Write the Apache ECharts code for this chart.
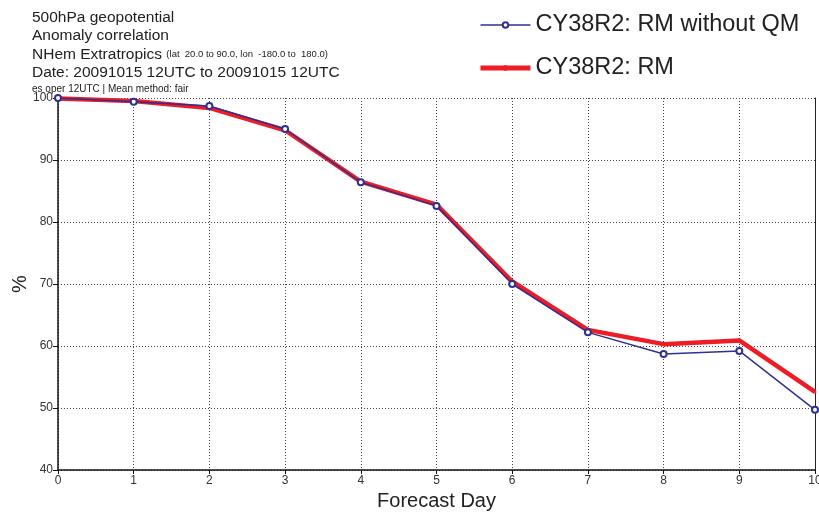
<!DOCTYPE html>
<html>
<head>
<meta charset="utf-8">
<script src="https://cdn.jsdelivr.net/npm/echarts@6/dist/echarts.min.js"></script>
<style>html,body{margin:0;padding:0;background:#fff}#c{width:819px;height:514px}</style>
</head>
<body>
<div id="c"></div>
<script>
var days = [0, 1, 2, 3, 4, 5, 6, 7, 8, 9, 10];
var rmWithoutQM = [100.0, 99.4, 98.7, 95.0, 86.4, 82.6, 70.0, 62.2, 58.7, 59.2, 49.7];
var rm = [99.9, 99.5, 98.4, 94.8, 86.5, 82.8, 70.4, 62.6, 60.3, 60.9, 52.6];
var seriesNames = ['CY38R2: RM without QM', 'CY38R2: RM'];

var chart = echarts.init(document.getElementById('c'));
var font = '"Liberation Sans", Arial, Helvetica, sans-serif';
chart.setOption({
  animation: false,
  textStyle: { fontFamily: font },
  title: {
    left: 27, top: 3,
    text: '{m|500hPa geopotential}\n{m|Anomaly correlation}\n{m|NHem Extratropics }{s|(lat  20.0 to 90.0, lon  -180.0 to  180.0)}\n{m|Date: 20091015 12UTC to 20091015 12UTC}\n{t|es oper 12UTC | Mean method: fair}',
    textStyle: {
      fontFamily: font,
      fontWeight: 'normal',
      rich: {
        m: { fontSize: 15.5, color: '#222', lineHeight: 18.5, fontFamily: font },
        s: { fontSize: 9.5, color: '#222', lineHeight: 18.5, fontFamily: font },
        t: { fontSize: 10, color: '#222', lineHeight: 15, fontFamily: font }
      }
    }
  },
  legend: {
    data: [
      { name: seriesNames[0], lineStyle: { width: 1.5 } },
      { name: seriesNames[1], lineStyle: { width: 5 } }
    ],
    orient: 'vertical',
    left: 473, top: 8,
    itemWidth: 50, itemHeight: 7,
    itemGap: 19,
    textStyle: { fontSize: 23.5, color: '#222', fontFamily: font, padding: [0, 0, 0, 0] }
  },
  grid: { left: 58, right: 4, top: 98, bottom: 44, outerBoundsMode: 'none' },
  xAxis: {
    type: 'value', min: 0, max: 10, interval: 1,
    name: 'Forecast Day', nameLocation: 'middle', nameGap: 20,
    nameTextStyle: { fontSize: 20, color: '#222', fontFamily: font },
    axisLine: { show: true, lineStyle: { color: '#111', width: 1.5 } },
    axisTick: { show: true, length: 4, lineStyle: { color: '#111' } },
    axisLabel: { fontSize: 12, color: '#333', margin: 5, fontFamily: font },
    splitLine: { show: true, lineStyle: { color: '#444', type: [1, 2], width: 1 } }
  },
  yAxis: [{
    type: 'value', min: 40, max: 100, interval: 10,
    name: '%', nameLocation: 'middle', nameGap: 28, nameRotate: 90, nameMoveOverlap: false,
    nameTextStyle: { fontSize: 20, color: '#222', fontFamily: font },
    axisLine: { show: true, lineStyle: { color: '#111', width: 1.5 } },
    axisTick: { show: true, length: 5, lineStyle: { color: '#111' } },
    axisLabel: { fontSize: 12, color: '#333', margin: 5, fontFamily: font },
    splitLine: { show: true, lineStyle: { color: '#444', type: [1, 2], width: 1 } }
  }, {
    type: 'value', min: 40, max: 100, interval: 10, position: 'right',
    axisLine: { show: true, lineStyle: { color: '#222', width: 1 } },
    axisTick: { show: false }, axisLabel: { show: false }, splitLine: { show: false }
  }],
  series: [
    {
      name: seriesNames[1], type: 'line', z: 2,
      data: days.map(function (d, i) { return [d, rm[i]]; }),
      lineStyle: { color: '#ee1c25', width: 4.5 },
      itemStyle: { color: '#ee1c25' },
      symbol: 'circle', symbolSize: 3
    },
    {
      name: seriesNames[0], type: 'line', z: 3,
      data: days.map(function (d, i) { return [d, rmWithoutQM[i]]; }),
      lineStyle: { color: '#2e3192', width: 1.5 },
      itemStyle: { color: '#2e3192', borderColor: '#2e3192', borderWidth: 1.2 },
      symbol: 'emptyCircle', symbolSize: 6
    }
  ]
});
</script>
</body>
</html>
